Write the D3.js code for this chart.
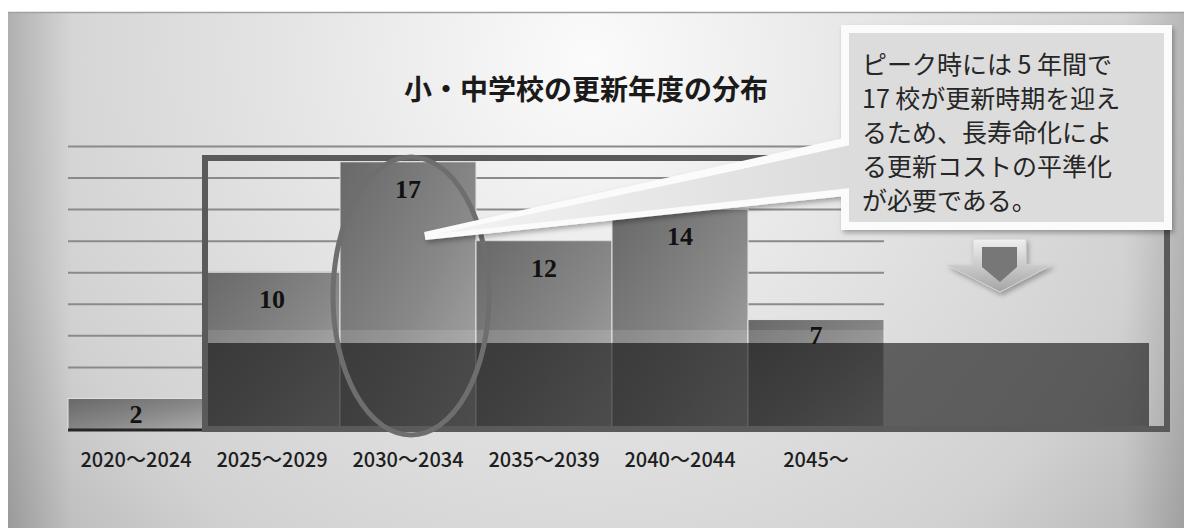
<!DOCTYPE html>
<html>
<head>
<meta charset="utf-8">
<script src="https://cdn.jsdelivr.net/npm/d3@7"></script>
<style>
  html, body { margin: 0; padding: 0; background: #fff; }
  svg { display: block; }
</style>
</head>
<body>
<div id="chart"></div>
<script>
// Data
const categories = ["2020～2024", "2025～2029", "2030～2034", "2035～2039", "2040～2044", "2045～"];
const counts = [2, 10, 17, 12, 14, 7];
const gridTicks = [2, 4, 6, 8, 10, 12, 14, 16, 18];
const chartTitle = "小・中学校の更新年度の分布";
const calloutLines = [
    "ピーク時には 5 年間で",
    "17 校が更新時期を迎え",
    "るため、長寿命化によ",
    "る更新コストの平準化",
    "が必要である。"
];

const width = 1184;
const height = 528;
const plot = { left: 68, right: 884, top: 146, bottom: 430 };
const jpFont = "'Noto Sans CJK JP', 'Noto Sans', sans-serif";

const svg = d3.select("#chart")
    .append("svg")
    .attr("width", width)
    .attr("height", height)
    .attr("viewBox", [0, 0, width, height]);

const defs = svg.append("defs");

// Background gradients
const bgGrad = defs.append("radialGradient")
    .attr("id", "bg-grad")
    .attr("gradientUnits", "userSpaceOnUse")
    .attr("cx", 590).attr("cy", 60).attr("r", 780);
[[0, "#fbfbfb"], [0.4, "#e4e4e4"], [0.75, "#d1d1d1"], [1, "#b2b2b2"]].forEach(([o, c]) => {
    bgGrad.append("stop").attr("offset", o).attr("stop-color", c);
});

const leftGrad = defs.append("linearGradient")
    .attr("id", "left-grad")
    .attr("x1", 0).attr("x2", 1).attr("y1", 0).attr("y2", 0);
leftGrad.append("stop").attr("offset", 0).attr("stop-color", "#000").attr("stop-opacity", 0.16);
leftGrad.append("stop").attr("offset", 1).attr("stop-color", "#000").attr("stop-opacity", 0);

const rightGrad = defs.append("linearGradient")
    .attr("id", "right-grad")
    .attr("x1", 0).attr("x2", 1).attr("y1", 0).attr("y2", 0);
rightGrad.append("stop").attr("offset", 0).attr("stop-color", "#000").attr("stop-opacity", 0);
rightGrad.append("stop").attr("offset", 1).attr("stop-color", "#000").attr("stop-opacity", 0.12);

// Bar gradient
const barGrad = defs.append("linearGradient")
    .attr("id", "bar-grad")
    .attr("x1", 0).attr("y1", 0).attr("x2", 1).attr("y2", 1);
[[0, "#686868"], [0.55, "#888888"], [1, "#ababab"]].forEach(([o, c]) => {
    barGrad.append("stop").attr("offset", o).attr("stop-color", c);
});

// Callout wedge gradient
const wedgeGrad = defs.append("linearGradient")
    .attr("id", "wedge-grad")
    .attr("gradientUnits", "userSpaceOnUse")
    .attr("x1", 425).attr("y1", 0).attr("x2", 845).attr("y2", 0);
wedgeGrad.append("stop").attr("offset", 0).attr("stop-color", "#f4f4f4");
wedgeGrad.append("stop").attr("offset", 1).attr("stop-color", "#dcdcdc");

// Arrow gradient
const arrowGrad = defs.append("linearGradient")
    .attr("id", "arrow-grad")
    .attr("x1", 0).attr("y1", 0).attr("x2", 0).attr("y2", 1);
arrowGrad.append("stop").attr("offset", 0).attr("stop-color", "#f0f0f0");
arrowGrad.append("stop").attr("offset", 1).attr("stop-color", "#a4a4a4");

// Drop shadow
const shadow = defs.append("filter")
    .attr("id", "shadow")
    .attr("x", "-20%").attr("y", "-20%")
    .attr("width", "140%").attr("height", "140%");
shadow.append("feDropShadow")
    .attr("dx", 2).attr("dy", 3)
    .attr("stdDeviation", 2.5)
    .attr("flood-color", "#000")
    .attr("flood-opacity", 0.3);

// Background panel
svg.append("rect")
    .attr("x", 0).attr("y", 0)
    .attr("width", width).attr("height", height)
    .attr("fill", "#fff");

svg.append("rect")
    .attr("x", 8).attr("y", 12)
    .attr("width", width - 8).attr("height", height - 12)
    .attr("fill", "url(#bg-grad)");

svg.append("rect")
    .attr("x", 8).attr("y", 12)
    .attr("width", 64).attr("height", height - 12)
    .attr("fill", "url(#left-grad)");

svg.append("rect")
    .attr("x", width - 60).attr("y", 12)
    .attr("width", 60).attr("height", height - 12)
    .attr("fill", "url(#right-grad)");

svg.append("line")
    .attr("x1", 8).attr("x2", width)
    .attr("y1", 12.5).attr("y2", 12.5)
    .attr("stroke", "#a0a0a0")
    .attr("stroke-width", 1.5);

// Title
svg.append("text")
    .attr("x", 586)
    .attr("y", 90)
    .attr("dy", "0.36em")
    .attr("text-anchor", "middle")
    .attr("font-family", jpFont)
    .attr("font-weight", 700)
    .attr("font-size", 28)
    .attr("fill", "#1a1a1a")
    .text(chartTitle);

// Scales
const xScale = d3.scaleBand()
    .domain(categories)
    .range([plot.left, plot.right])
    .padding(0);

const yScale = d3.scaleLinear()
    .domain([0, 18])
    .range([plot.bottom, plot.top]);

// Gridlines
const grid = svg.append("g")
    .attr("class", "grid")
    .attr("transform", "translate(" + plot.left + ",0)")
    .call(d3.axisLeft(yScale)
        .tickValues(gridTicks)
        .tickSize(-(plot.right - plot.left))
        .tickFormat(""));
grid.select(".domain").remove();
grid.selectAll("line")
    .attr("stroke", "#8a8a8a")
    .attr("stroke-width", 2);

// Bars
const data = categories.map((c, i) => ({ category: c, value: counts[i] }));

svg.append("g")
    .attr("class", "bars")
    .selectAll("rect")
    .data(data)
    .enter()
    .append("rect")
    .attr("x", d => xScale(d.category))
    .attr("y", d => yScale(d.value))
    .attr("width", xScale.bandwidth())
    .attr("height", d => yScale(0) - yScale(d.value))
    .attr("fill", "url(#bar-grad)")
    .attr("stroke", "#e4e4e4")
    .attr("stroke-width", 1);

// Dark band over the lower part of the bars
const frame = { x: 205, y: 158, w: 962, h: 271 };

svg.append("rect")
    .attr("x", frame.x + 3)
    .attr("y", 330)
    .attr("width", plot.right - (frame.x + 3))
    .attr("height", 13)
    .attr("fill", "#fff")
    .attr("fill-opacity", 0.12);

svg.append("rect")
    .attr("x", frame.x + 3)
    .attr("y", 343)
    .attr("width", 1149 - (frame.x + 3))
    .attr("height", frame.y + frame.h - 3 - 343)
    .attr("fill", "rgb(22,22,22)")
    .attr("fill-opacity", 0.63);

// Baseline
svg.append("line")
    .attr("x1", plot.left).attr("x2", frame.x)
    .attr("y1", yScale(0)).attr("y2", yScale(0))
    .attr("stroke", "#262626")
    .attr("stroke-width", 3);

// Frame
svg.append("rect")
    .attr("x", frame.x).attr("y", frame.y)
    .attr("width", frame.w).attr("height", frame.h)
    .attr("fill", "none")
    .attr("stroke", "#5a5a5a")
    .attr("stroke-width", 6);

// Value labels
svg.append("g")
    .attr("class", "value-labels")
    .selectAll("text")
    .data(data)
    .enter()
    .append("text")
    .attr("x", d => xScale(d.category) + xScale.bandwidth() / 2)
    .attr("y", d => {
        const top = yScale(d.value);
        const offset = d.value < 8 ? Math.min(15, (yScale(0) - top) / 2) : 27;
        return top + offset;
    })
    .attr("dy", "0.35em")
    .attr("text-anchor", "middle")
    .attr("font-family", "'Liberation Serif', 'DejaVu Serif', serif")
    .attr("font-weight", 700)
    .attr("font-size", 26)
    .attr("fill", "#111")
    .text(d => d.value);

// Category labels
const xAxis = svg.append("g")
    .attr("class", "x-axis")
    .attr("transform", "translate(0," + plot.bottom + ")")
    .call(d3.axisBottom(xScale).tickSize(0));
xAxis.select(".domain").remove();
xAxis.selectAll("text")
    .attr("y", 30)
    .attr("dy", "0.35em")
    .attr("font-family", jpFont)
    .attr("font-weight", 500)
    .attr("font-size", 20)
    .attr("fill", "#1e1e1e");

// Ellipse around the peak
const peak = data[2];
svg.append("ellipse")
    .attr("cx", xScale(peak.category) + xScale.bandwidth() / 2 + 3)
    .attr("cy", 296)
    .attr("rx", 78)
    .attr("ry", 139)
    .attr("fill", "none")
    .attr("stroke", "#6e6e6e")
    .attr("stroke-width", 5);

// Down arrow
const arrowG = svg.append("g").attr("filter", "url(#shadow)");
arrowG.append("path")
    .attr("d", "M973,239 L1026,239 L1026,265 L1052,265 L1000,292 L947,265 L973,265 Z")
    .attr("fill", "url(#arrow-grad)")
    .attr("stroke", "#d0d0d0")
    .attr("stroke-width", 1);
arrowG.append("path")
    .attr("d", "M982,247 L1017,247 L1017,267 L1000,282 L982,267 Z")
    .attr("fill", "#777");

// Callout
const callout = { x: 845, y: 29, w: 323, h: 197 };
svg.append("path")
    .attr("d", "M" + callout.x + "," + callout.y
        + " L" + (callout.x + callout.w) + "," + callout.y
        + " L" + (callout.x + callout.w) + "," + (callout.y + callout.h)
        + " L" + callout.x + "," + (callout.y + callout.h)
        + " L" + callout.x + ",192"
        + " L425,236"
        + " L" + callout.x + ",142 Z")
    .attr("fill", "#dcdcdc")
    .attr("stroke", "#fbfbfb")
    .attr("stroke-width", 8)
    .attr("stroke-linejoin", "miter")
    .attr("stroke-miterlimit", 4)
    .attr("filter", "url(#shadow)");

// Wedge interior lightened toward the tip
svg.append("path")
    .attr("d", "M851,146 L436,234 L851,188 Z")
    .attr("fill", "url(#wedge-grad)");

svg.append("g")
    .attr("class", "callout-text")
    .selectAll("text")
    .data(calloutLines)
    .enter()
    .append("text")
    .attr("x", 862)
    .attr("y", (d, i) => 65 + i * 34)
    .attr("dy", "0.36em")
    .attr("font-family", jpFont)
    .attr("font-size", 25)
    .attr("fill", "#262626")
    .text(d => d);
</script>
</body>
</html>
